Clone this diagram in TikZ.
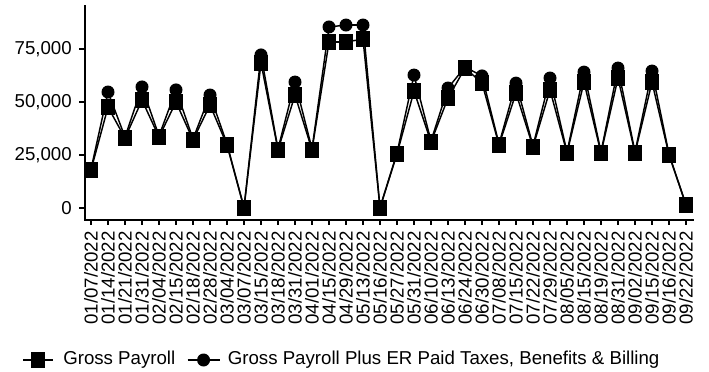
\documentclass[tikz,border=0pt]{standalone}
\usepackage{fontspec}
\setmainfont{Liberation Sans}
\usetikzlibrary{positioning}
\tikzset{
  axisline/.style={line width=1.1pt, black},
  dataline/.style={line width=1.1pt, black},
  sqmark/.style={rectangle, fill=black, minimum width=10.25pt, minimum height=12pt, inner sep=0pt},
  dotmark/.style={circle, fill=black, minimum size=9.75pt, inner sep=0pt}
}

\begin{document}
\begin{tikzpicture}[x=0.75pt, y=-0.75pt, font=\fontsize{14}{16}\selectfont]
        % Canvas in screen pixels, y runs downwards
        \useasboundingbox (0,0) rectangle (709,371);
        \def\ybase{208}
        \def\yunit{2.12}

        % Axes
        \coordinate (ytop) at (85,5);
        \coordinate (origin) at (85,220);
        \coordinate (xend) at (694,220);
        \draw[axisline] (ytop) -- (origin) -- (xend);

        % Value ticks and labels
        \foreach \v/\t in {0/0, 25/{25,000}, 50/{50,000}, 75/{75,000}} {
          \coordinate (yt\v) at (85,{\ybase-\v*\yunit});
          \coordinate (ys\v) at (79,{\ybase-\v*\yunit});
          \draw[axisline] (yt\v) -- (ys\v);
          \node[anchor=east, inner sep=0pt] (yl\v) at (72,{\ybase-\v*\yunit}) {\t};
        }

        % Pay dates: month/day/gross/gross plus (thousands)
        \foreach \m/\dd/\g/\p [count=\i] in {
            01/07/17.9/18.3, 01/14/47.6/54.7, 01/21/33.0/33.5, 01/31/50.9/57.1,
            02/04/33.5/34.0, 02/15/50.0/55.7, 02/18/32.1/32.6, 02/28/48.6/53.3,
            03/04/29.7/30.2, 03/07/0/0.3, 03/15/68.4/72.2, 03/18/27.4/27.9,
            03/31/53.3/59.4, 04/01/27.4/27.9, 04/15/78.3/85.4, 04/29/78.3/86.3,
            05/13/79.7/86.3, 05/16/0/0.3, 05/27/25.5/26.0, 05/31/55.2/62.7,
            06/10/31.1/31.6, 06/13/51.9/56.6, 06/24/66.0/66.5, 06/30/59.0/62.3,
            07/08/29.7/30.2, 07/15/54.2/58.9, 07/22/28.8/29.3, 07/29/55.7/61.3,
            08/05/25.9/26.4, 08/15/59.4/64.1, 08/19/25.9/26.4, 08/31/61.3/66.0,
            09/02/25.9/26.4, 09/15/59.4/64.6, 09/16/25.0/25.4, 09/22/1.4/1.6} {
          \coordinate (g\i) at ({91+(\i-1)*17},{\ybase-\g*\yunit});
          \coordinate (p\i) at ({91+(\i-1)*17},{\ybase-\p*\yunit});
          \coordinate (xt\i) at ({91+(\i-1)*17},220);
          \coordinate (xs\i) at ({91+(\i-1)*17},225);
          \draw[axisline] (xt\i) -- (xs\i);
          \node[rotate=90, anchor=east, inner sep=0pt] (date\i) at ({91+(\i-1)*17},231) {\m/\dd/2022};
        }

        % Gross payroll plus taxes, benefits and billing
        \foreach \i [remember=\i as \j (initially 1)] in {2,...,36}
          \draw[dataline] (p\j) -- (p\i);
        \foreach \i in {1,...,36}
          \node[dotmark] (pm\i) at (p\i) {};

        % Gross payroll
        \foreach \i [remember=\i as \j (initially 1)] in {2,...,36}
          \draw[dataline] (g\j) -- (g\i);
        \foreach \i in {1,...,36}
          \node[sqmark] (gm\i) at (g\i) {};

        % Legend
        \coordinate (lega) at (23,360);
        \coordinate (legb) at (53,360);
        \draw[dataline] (lega) -- (legb);
        \node[sqmark] (legsq) at (38,360) {};
        \node[right=7.5pt of legb, inner sep=0pt] (leggross) {Gross Payroll};
        \coordinate[right=9pt of leggross] (legc);
        \coordinate[right=24pt of legc] (legd);
        \draw[dataline] (legc) -- (legd);
        \node[dotmark] (legdot) at ([xshift=12pt]legc) {};
        \node[right=6pt of legd, inner sep=0pt] (legplus) {Gross Payroll Plus ER Paid Taxes, Benefits \& Billing};
    \end{tikzpicture}
\end{document}
